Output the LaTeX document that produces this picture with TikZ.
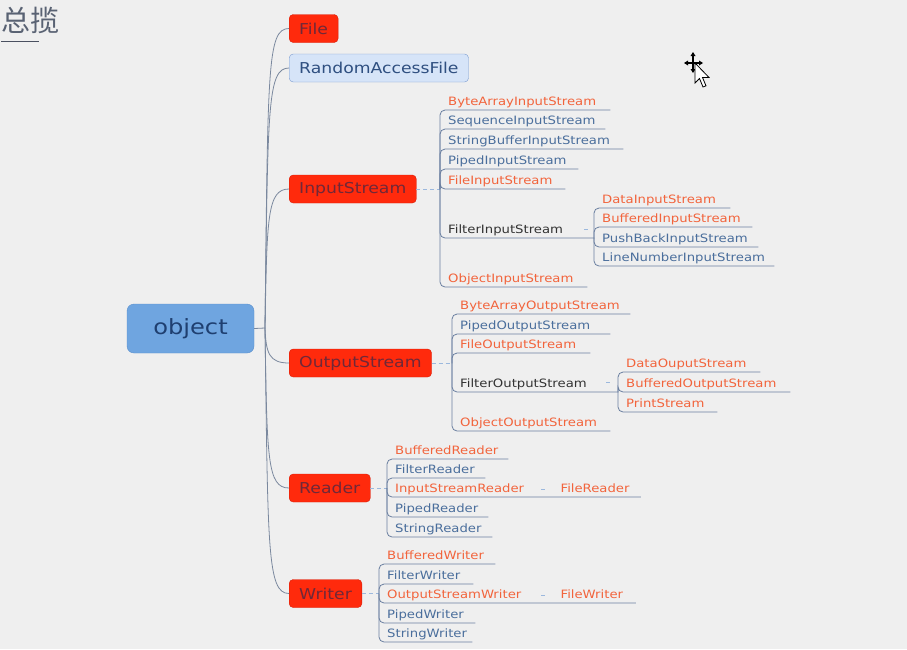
\documentclass[tikz,border=0pt]{standalone}
\usepackage{fontspec}
\setmainfont{DejaVu Sans}
\newfontfamily\mf[FakeStretch=1.15]{DejaVu Sans}
\newfontfamily\cjk{Noto Sans CJK SC}
\definecolor{bgc}{HTML}{EFEFEF}
\definecolor{redf}{HTML}{FF2A0C}
\definecolor{redd}{HTML}{D81E08}
\definecolor{redt}{HTML}{702838}
\definecolor{orng}{HTML}{F2643C}
\definecolor{blut}{HTML}{4A6E9C}
\definecolor{drk}{HTML}{333333}
\definecolor{ulc}{HTML}{6A7FA0}
\definecolor{stubc}{HTML}{9BB8DD}
\definecolor{trkc}{HTML}{7A889E}
\definecolor{objf}{HTML}{6FA5E0}
\definecolor{objd}{HTML}{5A8FCC}
\definecolor{objt}{HTML}{1F3F70}
\definecolor{raff}{HTML}{D6E4F8}
\definecolor{rafd}{HTML}{7A9BD0}
\definecolor{raft}{HTML}{2F4F80}
\definecolor{ttl}{HTML}{596273}
\definecolor{ttlu}{HTML}{4A5060}
\newcommand\lw[2]{\makebox[\dimexpr#1pt-16pt\relax][l]{#2}}
\begin{document}
\begin{tikzpicture}[x=1pt,y=-1pt,
  topbox/.style={anchor=west, rounded corners=4pt, fill=redf, draw=redd, text=redt,
    font=\mf\fontsize{15}{18}\selectfont, minimum height=28pt, inner xsep=10pt},
  leaf/.style={anchor=south west, inner xsep=8pt, inner ysep=1pt, text height=9pt, text depth=3pt,
    font=\mf\fontsize{11.5}{13}\selectfont},
  ul/.style={draw=ulc, line width=0.8pt, rounded corners=5pt},
  stub/.style={draw=stubc, line width=0.9pt, dash pattern=on 4pt off 3pt},
  trunk/.style={draw=trkc, line width=0.8pt}]
\fill[bgc] (0,0) rectangle (907,649);
\useasboundingbox (0,0) rectangle (907,649);

% title
\node[anchor=west, inner sep=0, text=ttl, font=\cjk\fontsize{29}{31}\selectfont] (title) at (1,20) {总揽};
\draw[ttlu, line width=1.6pt] (title.south west) ++(0,8) coordinate (tl) -- ++(38,0) coordinate (tr);

% root
\node[rounded corners=7pt, fill=objf, draw=objd, text=objt, minimum width=127pt, minimum height=49pt,
  font=\mf\fontsize{21}{24}\selectfont] (obj) at (190.5,328.5) {object};
\coordinate (trk) at (265,328);
\draw[trunk] (obj.east) -- (trk);

% top level
\node[topbox] (file) at (289,28.5) {File};
\node[topbox, fill=raff, draw=rafd, text=raft] (raf) at (289,68) {RandomAccessFile};
\node[topbox] (is) at (289,189) {InputStream};
\node[topbox] (os) at (289,363) {OutputStream};
\node[topbox] (rd) at (289,488) {Reader};
\node[topbox] (wr) at (289,593.5) {Writer};

\draw[trunk] (trk) .. controls +(3,-260) and +(-22,0) .. (file.west);
\draw[trunk] (trk) .. controls +(3,-220) and +(-22,0) .. (raf.west);
\draw[trunk] (trk) .. controls +(2,-110) and +(-22,0) .. (is.west);
\draw[trunk] (trk) .. controls +(1,25) and +(-20,0) .. (os.west);
\draw[trunk] (trk) .. controls +(2,130) and +(-22,0) .. (rd.west);
\draw[trunk] (trk) .. controls +(3,220) and +(-22,0) .. (wr.west);

% InputStream
\coordinate (isb) at (440,189);
\draw[stub] (is.east) -- (isb);
\node[leaf, text=orng] (bais) at (440,110) {\lw{170}{ByteArrayInputStream}};
\node[leaf, text=blut] (sis) at (440,129) {\lw{165}{SequenceInputStream}};
\node[leaf, text=blut] (sbis) at (440,149) {\lw{183}{StringBufferInputStream}};
\node[leaf, text=blut] (pis) at (440,169) {\lw{138}{PipedInputStream}};
\node[leaf, text=orng] (fis) at (440,189) {\lw{125}{FileInputStream}};
\node[leaf, text=drk] (fltis) at (440,238) {\lw{154}{FilterInputStream}};
\node[leaf, text=orng] (ois) at (440,287) {\lw{147}{ObjectInputStream}};
\foreach \n in {bais,sis,sbis,pis,fis,fltis,ois} \draw[ul] (isb) |- (\n.south east);

\coordinate (fisb) at (594,238);
\draw[stub] ([xshift=-10pt,yshift=1pt]fltis.east) -- ++(5,0);
\node[leaf, text=orng] (dis) at (594,208) {\lw{136}{DataInputStream}};
\node[leaf, text=orng] (bis) at (594,227) {\lw{158}{BufferedInputStream}};
\node[leaf, text=blut] (pbis) at (594,247) {\lw{164}{PushBackInputStream}};
\node[leaf, text=blut] (lnis) at (594,266) {\lw{180}{LineNumberInputStream}};
\foreach \n in {dis,bis,pbis,lnis} \draw[ul] (fisb) |- (\n.south east);

% OutputStream
\coordinate (osb) at (452,363);
\draw[stub] (os.east) -- (osb);
\node[leaf, text=orng] (baos) at (452,314) {\lw{178}{ByteArrayOutputStream}};
\node[leaf, text=blut] (pos) at (452,334) {\lw{158}{PipedOutputStream}};
\node[leaf, text=orng] (fos) at (452,353) {\lw{138}{FileOutputStream}};
\node[leaf, text=drk] (fltos) at (452,392) {\lw{166}{FilterOutputStream}};
\node[leaf, text=orng] (oos) at (452,431) {\lw{158}{ObjectOutputStream}};
\foreach \n in {baos,pos,fos,fltos,oos} \draw[ul] (osb) |- (\n.south east);

\coordinate (fosb) at (618,392);
\draw[stub] ([xshift=-12pt,yshift=2pt]fltos.east) -- ++(5,0);
\node[leaf, text=orng] (dos) at (618,372) {\lw{142}{DataOuputStream}};
\node[leaf, text=orng] (bos) at (618,392) {\lw{172}{BufferedOutputStream}};
\node[leaf, text=orng] (ps) at (618,412) {\lw{99}{PrintStream}};
\foreach \n in {dos,bos,ps} \draw[ul] (fosb) |- (\n.south east);

% Reader
\coordinate (rdb) at (387,488);
\draw[stub] (rd.east) -- (rdb);
\node[leaf, text=orng] (brd) at (387,459) {\lw{121}{BufferedReader}};
\node[leaf, text=blut] (frd) at (387,478) {\lw{98}{FilterReader}};
\node[leaf, text=orng] (isr) at (387,497) {\lw{165}{InputStreamReader}};
\node[leaf, text=blut] (prd) at (387,517) {\lw{101}{PipedReader}};
\node[leaf, text=blut] (srd) at (387,537) {\lw{105}{StringReader}};
\node[leaf, text=orng] (filerd) at (isr.south east) {\lw{88}{FileReader}};
\foreach \n in {brd,frd,prd,srd} \draw[ul] (rdb) |- (\n.south east);
\draw[ul] (rdb) |- (filerd.south east);
\draw[stub] ([xshift=-11pt]isr.east) -- ++(5,0);

% Writer
\coordinate (wrb) at (379,593.5);
\draw[stub] (wr.east) -- (wrb);
\node[leaf, text=orng] (bwr) at (379,564) {\lw{116}{BufferedWriter}};
\node[leaf, text=blut] (fwr) at (379,584) {\lw{94}{FilterWriter}};
\node[leaf, text=orng] (osw) at (379,603) {\lw{173}{OutputStreamWriter}};
\node[leaf, text=blut] (pwr) at (379,623) {\lw{96}{PipedWriter}};
\node[leaf, text=blut] (swr) at (379,642) {\lw{93}{StringWriter}};
\node[leaf, text=orng] (filewr) at (osw.south east) {\lw{83}{FileWriter}};
\foreach \n in {bwr,fwr,pwr,swr} \draw[ul] (wrb) |- (\n.south east);
\draw[ul] (wrb) |- (filewr.south east);
\draw[stub] ([xshift=-11pt]osw.east) -- ++(5,0);

% mouse cursor
\begin{scope}[line width=1.2pt, black]
  \draw (693,54) -- (693,72) (685,63) -- (702,63);
  \fill (693,52) -- (690.5,56) -- (695.5,56) -- cycle;
  \fill (684,63) -- (688,60.5) -- (688,65.5) -- cycle;
  \fill (703,63) -- (699,60.5) -- (699,65.5) -- cycle;
  \fill (693,73) -- (690.5,69) -- (695.5,69) -- cycle;
  \draw[fill=white, line width=0.8pt, line join=miter] (695,63) -- (695,83) -- (699.5,78.5) -- (703,87) -- (706,85.8) -- (702.5,77.5) -- (709,77.5) -- cycle;
\end{scope}
\end{tikzpicture}
\end{document}
